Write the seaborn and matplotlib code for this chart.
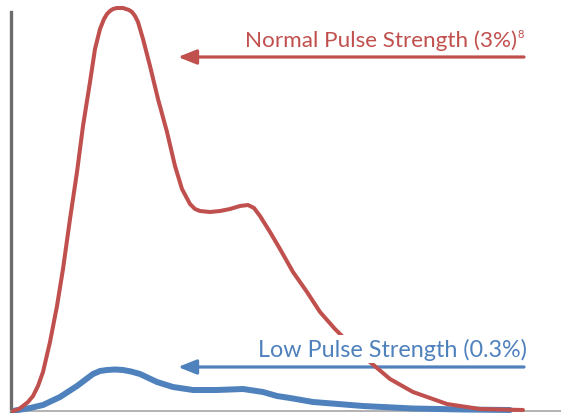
"""
Pulse strength curves
"""

import numpy as np
import matplotlib.pyplot as plt
import seaborn as sns

RED = '#C0504D'
BLUE = '#4F81BD'

# curve samples (time, amplitude)
normal_t = [2, 8, 12, 17, 22, 27, 32, 39, 46, 52, 59, 66, 72, 79, 84, 89, 93, 96, 99, 102,
            106, 109, 112, 115, 118, 121, 124, 127, 132, 139, 147, 156, 164, 171, 179, 184,
            189, 199, 209, 219, 229, 237, 243, 249, 259, 269, 282, 296, 309, 324, 339, 359,
            379, 402, 436, 469, 512]
normal_amp = [0, 2, 5, 9, 15, 25, 39, 69, 105, 142, 192, 239, 285, 329, 362, 382, 392, 397,
              400, 402, 403, 403, 403, 402, 401, 399, 395, 389, 372, 345, 312, 279, 245, 222,
              207, 202, 200, 199, 200, 202, 205, 206, 203, 195, 179, 162, 139, 119, 99, 82,
              67, 49, 32, 19, 7, 2, 1]

low_t = [4, 19, 32, 49, 66, 82, 89, 96, 104, 112, 120, 129, 146, 162, 182, 206, 232, 252,
         266, 279, 302, 352, 402, 452, 499]
low_amp = [0.5, 3, 6, 14, 25, 37, 40, 41, 41.5, 41, 39.5, 37, 29, 24, 21, 21, 22, 19, 15, 13,
           9, 5, 2.5, 1.5, 1]

labels = ['Normal Pulse Strength (3%)', 'Low Pulse Strength (0.3%)']
footnote = '8'


def main():
    sns.set_style('white')
    plt.rcParams['font.family'] = ['Lato', 'DejaVu Sans']

    fig = plt.figure(figsize=(5.61, 4.14), dpi=100)
    ax = fig.add_axes([11 / 561, 2 / 414, 550 / 561, 399 / 414])

    sns.lineplot(x=low_t, y=low_amp, sort=False, estimator=None, color=BLUE, lw=4.3,
                 ax=ax, zorder=3, clip_on=False, solid_capstyle='round',
                 solid_joinstyle='round')
    sns.lineplot(x=normal_t, y=normal_amp, sort=False, estimator=None, color=RED, lw=2.9,
                 ax=ax, zorder=4, clip_on=False, solid_capstyle='round',
                 solid_joinstyle='round')

    ax.set_xlim(0, 550)
    ax.set_ylim(0, 399)
    ax.set_xticks([])
    ax.set_yticks([])
    for s in ['top', 'right']:
        ax.spines[s].set_visible(False)
    ax.spines['left'].set_color('#6b6b6b')
    ax.spines['left'].set_linewidth(2.4)
    ax.spines['bottom'].set_color('#a6a6a6')
    ax.spines['bottom'].set_linewidth(1.2)

    arrow = dict(arrowstyle='-|>,head_length=0.55,head_width=0.22', lw=2.3,
                 mutation_scale=20, shrinkA=0, shrinkB=0)
    ax.annotate('', xy=(167, 354), xytext=(513, 354),
                arrowprops=dict(arrow, color=RED), zorder=5)
    ax.annotate('', xy=(167, 44), xytext=(513, 44),
                arrowprops=dict(arrow, color=BLUE), zorder=2)

    ax.text(506, 365, labels[0], color=RED, fontsize=16.2, ha='right', va='baseline', zorder=6)
    ax.text(507, 374, footnote, color=RED, fontsize=8, ha='left', va='baseline', zorder=6)
    ax.text(516, 55, labels[1], color=BLUE, fontsize=16.8, ha='right', va='baseline', zorder=6,
            bbox=dict(facecolor='white', edgecolor='none', pad=2))

    fig.savefig('out.png', dpi=100)


if __name__ == '__main__':
    main()
